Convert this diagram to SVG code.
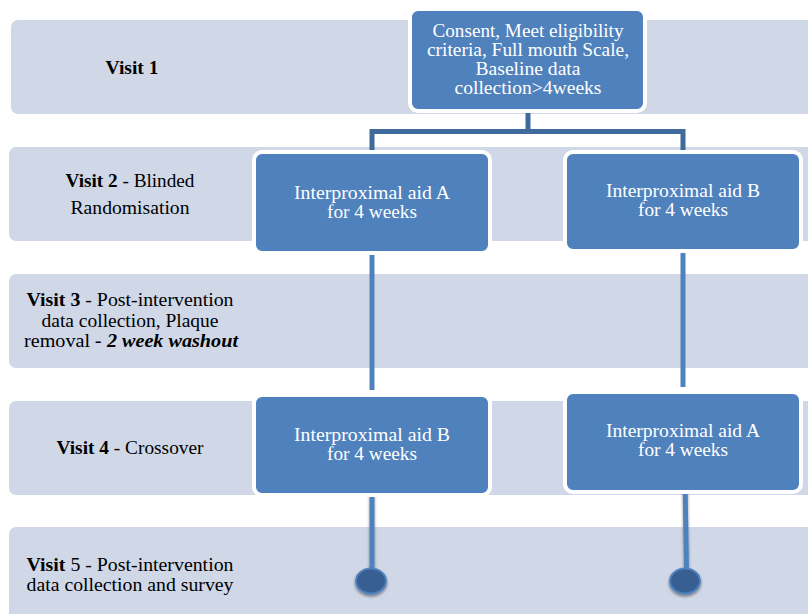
<svg xmlns="http://www.w3.org/2000/svg" width="808" height="614" viewBox="0 0 808 614">
<defs>
<style>
.band{fill:#D0D8E8;}
.box{fill:#4F81BD;stroke:#FFFFFF;stroke-width:4;}
.bt{font-family:"Liberation Serif","Times New Roman",serif;font-size:18px;fill:#FFFFFF;text-anchor:middle;}
.lt{font-family:"Liberation Serif","Times New Roman",serif;font-size:18px;fill:#000000;text-anchor:middle;}
.b{font-weight:bold;}
.conn{fill:none;stroke-linecap:butt;}
</style>
<filter id="sh" x="-50%" y="-50%" width="200%" height="200%">
<feGaussianBlur in="SourceAlpha" stdDeviation="1.5"/>
<feOffset dx="0" dy="2" result="o"/>
<feComponentTransfer><feFuncA type="linear" slope="0.45"/></feComponentTransfer>
<feMerge><feMergeNode/><feMergeNode in="SourceGraphic"/></feMerge>
</filter>
</defs>
<rect width="808" height="614" fill="#FFFFFF"/>
<g id="bands">
<rect class="band" x="11" y="20" width="810" height="94" rx="7"/>
<rect class="band" x="9" y="147" width="812" height="94" rx="7"/>
<rect class="band" x="9" y="274" width="812" height="94" rx="7"/>
<rect class="band" x="9" y="401" width="812" height="94" rx="7"/>
<rect class="band" x="9" y="527" width="812" height="100" rx="7"/>
</g>
<g id="labels">
<text class="lt b" x="132" y="74" textLength="53" lengthAdjust="spacingAndGlyphs">Visit 1</text>
<text class="lt" x="130" y="187" textLength="129" lengthAdjust="spacingAndGlyphs"><tspan class="b">Visit 2</tspan> - Blinded</text>
<text class="lt" x="130" y="214" textLength="119" lengthAdjust="spacingAndGlyphs">Randomisation</text>
<text class="lt" x="130" y="306" textLength="207" lengthAdjust="spacingAndGlyphs"><tspan class="b">Visit 3</tspan> - Post-intervention</text>
<text class="lt" x="130" y="327" textLength="177" lengthAdjust="spacingAndGlyphs">data collection, Plaque</text>
<text class="lt" x="131" y="347" textLength="214" lengthAdjust="spacingAndGlyphs">removal <tspan class="b" font-style="italic">- 2 week washout</tspan></text>
<text class="lt" x="130" y="454" textLength="147" lengthAdjust="spacingAndGlyphs"><tspan class="b">Visit 4</tspan> - Crossover</text>
<text class="lt" x="130" y="571" textLength="207" lengthAdjust="spacingAndGlyphs"><tspan class="b">Visit</tspan> 5 - Post-intervention</text>
<text class="lt" x="130" y="591" textLength="207" lengthAdjust="spacingAndGlyphs">data collection and survey</text>
</g>
<g id="connectors">
<path class="conn" d="M528 110 V131.5 H372 V153 M528 131.5 H683 V153" stroke="#3E6A9C" stroke-width="5"/>
<line class="conn" x1="372" y1="252" x2="372" y2="390" stroke="#4F81BD" stroke-width="5"/>
<line class="conn" x1="683" y1="250" x2="683" y2="387" stroke="#4F81BD" stroke-width="5"/>
<g filter="url(#sh)">
<line class="conn" x1="372" y1="494" x2="372" y2="570" stroke="#4F81BD" stroke-width="5"/>
<line class="conn" x1="685" y1="478" x2="686.5" y2="570" stroke="#4F81BD" stroke-width="5"/>
<ellipse cx="371" cy="581" rx="15" ry="12.5" fill="#375F92" stroke="#4F81BD" stroke-width="2"/>
<ellipse cx="685" cy="581" rx="15" ry="12.5" fill="#375F92" stroke="#4F81BD" stroke-width="2"/>
</g>
</g>
<g id="node-visit1">
<rect class="box" x="410" y="9" width="235" height="102" rx="8"/>
<text class="bt" x="528" y="37" textLength="191" lengthAdjust="spacingAndGlyphs">Consent, Meet eligibility</text>
<text class="bt" x="528" y="56" textLength="202" lengthAdjust="spacingAndGlyphs">criteria, Full mouth Scale,</text>
<text class="bt" x="528" y="75" textLength="105" lengthAdjust="spacingAndGlyphs">Baseline data</text>
<text class="bt" x="528" y="94" textLength="147" lengthAdjust="spacingAndGlyphs">collection&gt;4weeks</text>
</g>
<g id="node-v2-a">
<rect class="box" x="254" y="152" width="236" height="101" rx="8"/>
<text class="bt" x="372" y="199" textLength="156" lengthAdjust="spacingAndGlyphs">Interproximal aid A</text>
<text class="bt" x="372" y="218" textLength="90" lengthAdjust="spacingAndGlyphs">for 4 weeks</text>
</g>
<g id="node-v2-b">
<rect class="box" x="565" y="152" width="236" height="99" rx="8"/>
<text class="bt" x="683" y="197" textLength="154" lengthAdjust="spacingAndGlyphs">Interproximal aid B</text>
<text class="bt" x="683" y="216" textLength="90" lengthAdjust="spacingAndGlyphs">for 4 weeks</text>
</g>
<g id="node-v4-b">
<rect class="box" x="254" y="395" width="236" height="100" rx="8"/>
<text class="bt" x="372" y="441" textLength="156" lengthAdjust="spacingAndGlyphs">Interproximal aid B</text>
<text class="bt" x="372" y="460" textLength="90" lengthAdjust="spacingAndGlyphs">for 4 weeks</text>
</g>
<g id="node-v4-a">
<rect class="box" x="565" y="392" width="236" height="100" rx="8"/>
<text class="bt" x="683" y="437" textLength="154" lengthAdjust="spacingAndGlyphs">Interproximal aid A</text>
<text class="bt" x="683" y="456" textLength="90" lengthAdjust="spacingAndGlyphs">for 4 weeks</text>
</g>
</svg>
